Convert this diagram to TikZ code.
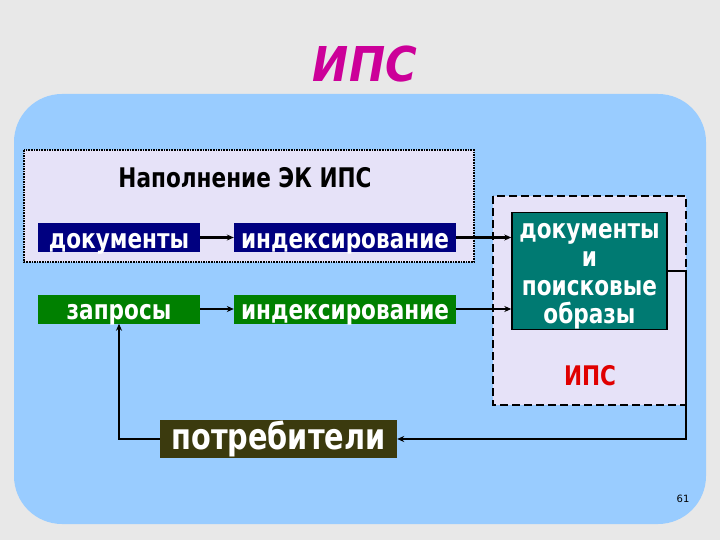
\documentclass[tikz,border=0pt]{standalone}
\usepackage{fontspec}
\setmainfont{DejaVu Sans}
\newfontfamily\boxfont[FakeStretch=0.8]{DejaVu Sans}
\newfontfamily\headfont[FakeStretch=0.9]{DejaVu Sans}
\usetikzlibrary{arrows.meta,positioning}
\definecolor{cBack}{HTML}{E8E8E8}
\definecolor{cPanel}{HTML}{99CCFF}
\definecolor{cLilac}{HTML}{E6E2F8}
\definecolor{cNavy}{HTML}{000080}
\definecolor{cGreen}{HTML}{008000}
\definecolor{cTeal}{HTML}{007A72}
\definecolor{cOlive}{HTML}{3B3A0E}
\definecolor{cTitle}{HTML}{CC0099}
\definecolor{cRed}{HTML}{E00000}

\begin{document}
\begin{tikzpicture}[x=1pt,y=-1pt,
  box/.style={inner sep=0pt,text=white,minimum height=29,text height=21,text depth=0,
    font=\boxfont\bfseries\fontsize{27}{28.5}\selectfont},
  arr/.style={line width=2.2,-{Stealth[length=7,width=6]}}]
  \useasboundingbox (0,0) rectangle (720,540);
  \fill[cBack] (0,0) rectangle (720,540);
  \fill[cRed] (33,112) -- (38,104) -- (41,106) -- (36,113) -- cycle;
  \fill[cPanel,rounded corners=48] (14,94) rectangle (706,524);
  \node[font=\headfont\bfseries\itshape\fontsize{48}{48}\selectfont,text=cTitle,
    inner sep=0pt,anchor=base] (title) at (365,82) {ИПС};
  % frames
  \draw[fill=cLilac,densely dotted,line width=1.6] (24,150) rectangle (474,262);
  \draw[fill=cLilac,dash pattern=on 8pt off 4pt,line width=1.6] (493,196) rectangle (686,405);
  \node[font=\boxfont\bfseries\fontsize{27}{27}\selectfont,inner sep=0pt,anchor=base]
    (fill) at (245,188) {Наполнение ЭК ИПС};
  % boxes
  \node[box,fill=cNavy,minimum width=162] (doc) at (119,237.5) {документы};
  \node[box,fill=cNavy,minimum width=222] (idx1) at (345,237.5) {индексирование};
  \node[box,fill=cGreen,minimum width=162] (req) at (119,309) {запросы};
  \node[box,fill=cGreen,minimum width=222] (idx2) at (345,309) {индексирование};
  \node[box,fill=cTeal,draw=black,line width=1.4,minimum width=155,minimum height=116,
    text height=,text depth=,align=center] (store) at (589.5,271)
    {\rule{0pt}{26pt}документы\\и\\поисковые\\образы};
  \node[font=\boxfont\bfseries\fontsize{27}{27}\selectfont,text=cRed,inner sep=0pt,
    anchor=base] (ips) at (590,385) {ИПС};
  \node[box,fill=cOlive,minimum width=237,minimum height=38,text height=20,
    font=\boxfont\bfseries\fontsize{36}{36}\selectfont] (users) at (278.5,439) {потребители};
  \node[font=\fontsize{10}{10}\selectfont] (page) at (683,499) {61};
  % connectors
  \coordinate (turnR) at (686,439);
  \draw[arr] (doc) -- (idx1);
  \draw[arr] (req) -- (idx2);
  \draw[arr] (idx1.east) -- (idx1.east -| store.west);
  \draw[arr] (idx2.east) -- (idx2.east -| store.west);
  \draw[arr] (store.east) -| (turnR) -- (users.east);
  \draw[arr] (users.west) -| (req.south);
\end{tikzpicture}
\end{document}
